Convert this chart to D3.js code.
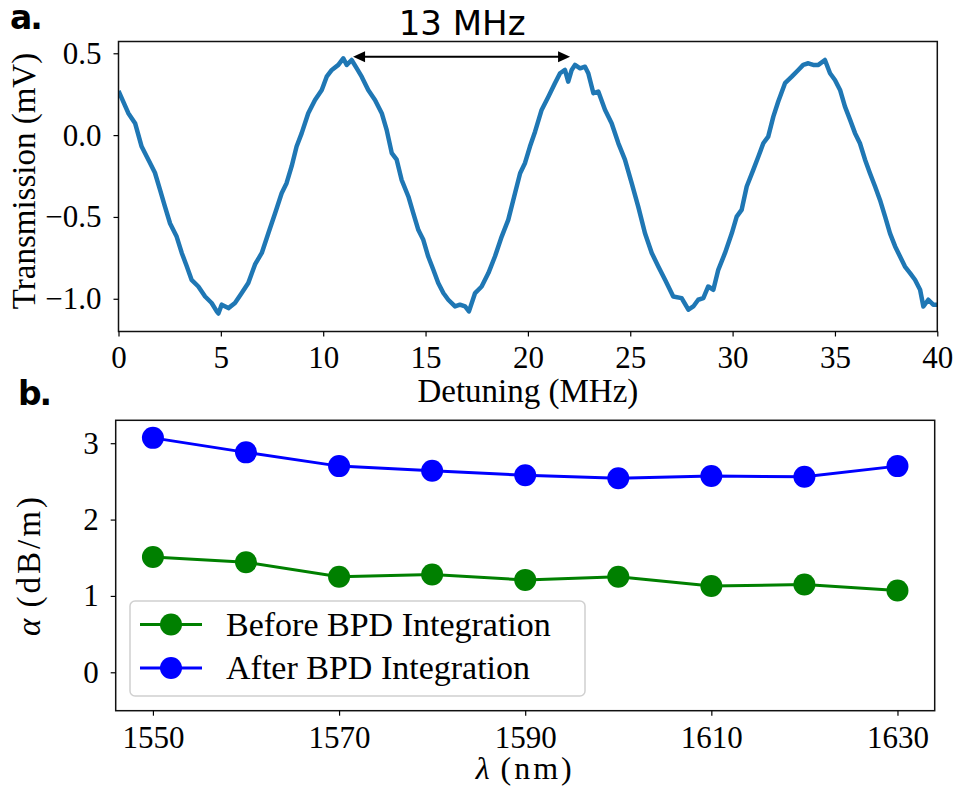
<!DOCTYPE html>
<html>
<head>
<meta charset="utf-8">
<script src="https://cdn.jsdelivr.net/npm/d3@7"></script>
<style>
  body { margin: 0; background: #fff; }
  .tick text { font-family: "Liberation Serif", serif; font-size: 31px; fill: #000; }
  .tick line { stroke: #000; stroke-width: 1.2; }
</style>
</head>
<body>
<svg id="chart" width="956" height="792"></svg>
<script>
// Panel a: transmission trace, [detuning MHz, transmission mV].
var trace = [
  [0, 0.27], [0.48, 0.134], [0.81, 0.073], [1.13, -0.07], [1.54, -0.17], [1.78, -0.23],
  [2.03, -0.335], [2.27, -0.437], [2.52, -0.54], [2.84, -0.62], [3.09, -0.72], [3.33, -0.80],
  [3.57, -0.884], [3.90, -0.925], [4.23, -0.986], [4.55, -1.026], [4.80, -1.077], [4.88, -1.09],
  [5.04, -1.036], [5.37, -1.057], [5.69, -1.026], [6.02, -0.965], [6.34, -0.904], [6.67, -0.79],
  [7.0, -0.72], [7.32, -0.60], [7.65, -0.477], [7.97, -0.355], [8.21, -0.294], [8.46, -0.19],
  [8.7, -0.07], [8.95, 0.012], [9.27, 0.134], [9.6, 0.215], [9.93, 0.276], [10.17, 0.357],
  [10.42, 0.398], [10.74, 0.429], [10.98, 0.469], [11.15, 0.429], [11.39, 0.459], [11.64, 0.408],
  [11.88, 0.357], [12.2, 0.276], [12.53, 0.215], [12.86, 0.134], [13.1, 0.032], [13.35, -0.11],
  [13.59, -0.15], [13.83, -0.273], [14.16, -0.375], [14.4, -0.477], [14.65, -0.58], [14.89, -0.64],
  [15.13, -0.742], [15.38, -0.823], [15.62, -0.904], [15.87, -0.965], [16.11, -1.006], [16.44, -1.047],
  [16.68, -1.036], [16.93, -1.047], [17.12, -1.077], [17.42, -0.965], [17.74, -0.925], [18.07, -0.843],
  [18.39, -0.742], [18.72, -0.62], [19.04, -0.518], [19.37, -0.355], [19.62, -0.233], [19.86, -0.17],
  [20.1, -0.07], [20.35, 0.021], [20.67, 0.154], [21.0, 0.235], [21.32, 0.317], [21.57, 0.378],
  [21.81, 0.398], [21.97, 0.327], [22.14, 0.398], [22.3, 0.429], [22.55, 0.408], [22.79, 0.418],
  [22.95, 0.378], [23.2, 0.256], [23.44, 0.266], [23.77, 0.154], [24.09, 0.073], [24.42, -0.05],
  [24.74, -0.15], [25.07, -0.294], [25.39, -0.437], [25.72, -0.60], [26.05, -0.72], [26.37, -0.803],
  [26.7, -0.884], [27.1, -0.986], [27.51, -0.996], [27.84, -1.067], [28.08, -1.047], [28.32, -1.006],
  [28.57, -0.996], [28.81, -0.925], [29.06, -0.945], [29.3, -0.823], [29.63, -0.72], [29.96, -0.60],
  [30.2, -0.498], [30.44, -0.457], [30.69, -0.314], [31.01, -0.212], [31.26, -0.131], [31.5, -0.05],
  [31.74, -0.009], [31.99, 0.113], [32.23, 0.205], [32.56, 0.317], [32.89, 0.357], [33.21, 0.398],
  [33.45, 0.429], [33.7, 0.439], [33.94, 0.429], [34.19, 0.429], [34.51, 0.459], [34.76, 0.378],
  [35.0, 0.337], [35.25, 0.276], [35.49, 0.174], [35.74, 0.093], [35.98, 0.012], [36.22, -0.05],
  [36.47, -0.15], [36.71, -0.233], [36.96, -0.314], [37.2, -0.396], [37.45, -0.498], [37.69, -0.60],
  [37.94, -0.68], [38.18, -0.742], [38.42, -0.803], [38.67, -0.843], [38.91, -0.884], [39.16, -0.945],
  [39.32, -1.047], [39.56, -1.006], [39.8, -1.036], [40.0, -1.036]
];
var xTicksA = [0, 5, 10, 15, 20, 25, 30, 35, 40];
var yTicksA = [-1.0, -0.5, 0.0, 0.5];
// FSR annotation (data coordinates).
var fsrFrom = 11.46, fsrTo = 22.06, fsrLevel = 0.479, fsrLabel = "13 MHz";

// Panel b: propagation loss vs wavelength.
var wavelength = [1550, 1560, 1570, 1580, 1590, 1600, 1610, 1620, 1630];
var lossBefore = [1.51, 1.44, 1.25, 1.28, 1.21, 1.25, 1.13, 1.15, 1.07];
var lossAfter = [3.07, 2.88, 2.70, 2.64, 2.58, 2.54, 2.57, 2.56, 2.70];
var xTicksB = [1550, 1570, 1590, 1610, 1630];
var yTicksB = [0, 1, 2, 3];
var seriesNames = ["Before BPD Integration", "After BPD Integration"];

// Constants.
var kSerif = '"Liberation Serif", serif';
var kSans = '"DejaVu Sans", sans-serif';
var kTickSize = 5;

var svg = d3.select('#chart');

// ---- Panel a ----
var boxA = {left: 118.5, right: 937.3, top: 41.5, bottom: 331.5};
var xA = d3.scaleLinear().domain([0, 40]).range([boxA.left, boxA.right]);
var yA = d3.scaleLinear().domain([-1.2, 0.572]).range([boxA.bottom, boxA.top]);

function Frame(box)
{
  svg.append('rect')
    .attr('x', box.left).attr('y', box.top)
    .attr('width', box.right - box.left).attr('height', box.bottom - box.top)
    .attr('fill', 'none').attr('stroke', '#111').attr('stroke-width', 1.5);
}

function Axes(box, x, y, xTicks, yTicks, xFormat, yFormat, xPad)
{
  svg.append('g')
    .attr('transform', 'translate(0,' + box.bottom + ')')
    .call(d3.axisBottom(x).tickValues(xTicks).tickFormat(xFormat)
      .tickSize(kTickSize).tickPadding(xPad))
    .call(function(g) { g.select('.domain').remove(); });
  svg.append('g')
    .attr('transform', 'translate(' + box.left + ',0)')
    .call(d3.axisLeft(y).tickValues(yTicks).tickFormat(yFormat)
      .tickSize(kTickSize).tickPadding(12))
    .call(function(g) { g.select('.domain').remove(); });
}

svg.append('clipPath').attr('id', 'clipA').append('rect')
  .attr('x', boxA.left).attr('y', boxA.top)
  .attr('width', boxA.right - boxA.left).attr('height', boxA.bottom - boxA.top);

svg.append('path')
  .datum(trace)
  .attr('clip-path', 'url(#clipA)')
  .attr('fill', 'none')
  .attr('stroke', '#1f77b4')
  .attr('stroke-width', 4.5)
  .attr('stroke-linejoin', 'round')
  .attr('d', d3.line().x(function(d) { return xA(d[0]); }).y(function(d) { return yA(d[1]); }));

Frame(boxA);
Axes(boxA, xA, yA, xTicksA, yTicksA, d3.format('d'), function(v) {
  return d3.format('.1f')(v).replace('-', '\u2212');
}, 9.5);

// Double-headed arrow for the FSR.
var ay = yA(fsrLevel), ax0 = xA(fsrFrom), ax1 = xA(fsrTo);
svg.append('line')
  .attr('x1', ax0 + 6).attr('x2', ax1 - 6).attr('y1', ay).attr('y2', ay)
  .attr('stroke', '#000').attr('stroke-width', 2);
svg.append('path')
  .attr('d', 'M' + ax0 + ',' + ay + 'l12,-5.5v11z')
  .attr('fill', '#000');
svg.append('path')
  .attr('d', 'M' + ax1 + ',' + ay + 'l-12,-5.5v11z')
  .attr('fill', '#000');
svg.append('text')
  .attr('x', xA((fsrFrom + fsrTo) / 2) + 0.5).attr('y', 35)
  .attr('text-anchor', 'middle')
  .style('font-family', kSans).style('font-size', '34px')
  .text(fsrLabel);

svg.append('text')
  .attr('x', (boxA.left + boxA.right) / 2).attr('y', 402)
  .attr('text-anchor', 'middle')
  .style('font-family', kSerif).style('font-size', '33px')
  .text('Detuning (MHz)');
svg.append('text')
  .attr('transform', 'translate(35,181) rotate(-90)')
  .attr('text-anchor', 'middle')
  .style('font-family', kSerif).style('font-size', '33px')
  .text('Transmission (mV)');

// Panel letters.
svg.append('text')
  .attr('x', 10).attr('y', 29)
  .style('font-family', kSans).style('font-weight', 'bold')
  .style('font-size', '33px').style('letter-spacing', '-2px')
  .text('a.');
svg.append('text')
  .attr('x', 18).attr('y', 405)
  .style('font-family', kSans).style('font-weight', 'bold')
  .style('font-size', '33px').style('letter-spacing', '-2px')
  .text('b.');

// ---- Panel b ----
var boxB = {left: 115.7, right: 934.7, top: 420.3, bottom: 710.7};
var xB = d3.scaleLinear().domain([1546, 1634]).range([boxB.left, boxB.right]);
var yB = d3.scaleLinear().domain([-0.503, 3.30]).range([boxB.bottom, boxB.top]);

var series = [
  {name: seriesNames[0], values: lossBefore, color: '#008000'},
  {name: seriesNames[1], values: lossAfter, color: '#0000ff'}
];

var lineB = d3.line()
  .x(function(d, i) { return xB(wavelength[i]); })
  .y(function(d) { return yB(d); });

series.forEach(function(s) {
  svg.append('path')
    .attr('d', lineB(s.values))
    .attr('fill', 'none').attr('stroke', s.color).attr('stroke-width', 3);
  svg.append('g').selectAll('circle')
    .data(s.values).enter().append('circle')
    .attr('cx', function(d, i) { return xB(wavelength[i]); })
    .attr('cy', function(d) { return yB(d); })
    .attr('r', 11)
    .attr('fill', s.color);
});

Frame(boxB);
Axes(boxB, xB, yB, xTicksB, yTicksB, d3.format('d'), d3.format('d'), 10);

// Legend.
var legend = svg.append('g').attr('transform', 'translate(130,601)');
legend.append('rect')
  .attr('width', 455).attr('height', 95).attr('rx', 5)
  .attr('fill', '#fff').attr('fill-opacity', 0.8)
  .attr('stroke', '#d0d0d0').attr('stroke-width', 1.5);
series.forEach(function(s, i) {
  var ly = 23.5 + i * 43.5;
  legend.append('line')
    .attr('x1', 10).attr('x2', 72).attr('y1', ly).attr('y2', ly)
    .attr('stroke', s.color).attr('stroke-width', 3);
  legend.append('circle')
    .attr('cx', 41).attr('cy', ly).attr('r', 11).attr('fill', s.color);
  legend.append('text')
    .attr('x', 96).attr('y', ly + 11)
    .style('font-family', kSerif).style('font-size', '34px')
    .text(s.name);
});

// Axis labels with italic symbols.
var xl = svg.append('text')
  .attr('x', (boxB.left + boxB.right) / 2).attr('y', 779)
  .attr('text-anchor', 'middle')
  .style('font-family', kSerif).style('font-size', '32px');
xl.append('tspan').style('font-style', 'italic').text('\u03bb');
xl.append('tspan').style('letter-spacing', '3px').text(' (nm)');

var yl = svg.append('text')
  .attr('transform', 'translate(40,565) rotate(-90)')
  .attr('text-anchor', 'middle')
  .style('font-family', kSerif).style('font-size', '33px');
yl.append('tspan').style('font-style', 'italic').text('\u03b1');
yl.append('tspan').style('letter-spacing', '3px').text(' (dB/m)');
</script>
</body>
</html>
